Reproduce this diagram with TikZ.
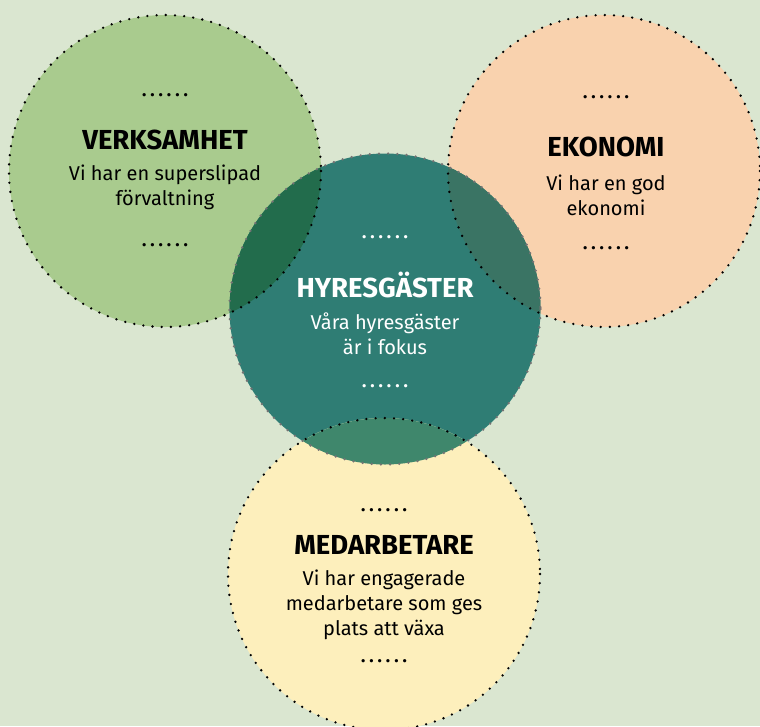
\documentclass[tikz,border=0pt]{standalone}
\usepackage{fontspec}
\setmainfont{Fira Sans}
\usepackage{tikz}

\definecolor{bgcol}{HTML}{DAE6D0}
\definecolor{verkcol}{HTML}{A9CB8E}
\definecolor{ekocol}{HTML}{F9D2AE}
\definecolor{hyrcol}{HTML}{2F7D74}
\definecolor{medcol}{HTML}{FDEFBC}
\definecolor{verkhyr}{HTML}{226C4C}
\definecolor{ekohyr}{HTML}{3A7464}
\definecolor{medhyr}{HTML}{3F876C}

\newcommand{\dotrow}{.\hspace{4pt}.\hspace{4pt}.\hspace{4pt}.\hspace{4pt}.\hspace{4pt}.}

\tikzset{
  rim/.style={line width=2.6pt, line cap=round, dash pattern=on 0pt off 9.2pt},
  head/.style={font=\fontsize{27.5}{32}\selectfont\bfseries, inner sep=0pt},
  body/.style={font=\fontsize{20}{25}\selectfont, align=center, inner sep=0pt},
  dots/.style={font=\fontsize{18}{20}\selectfont\bfseries, inner sep=0pt}
}

\begin{document}
\begin{tikzpicture}[x=1pt, y=-1pt]
            % background
            \fill[bgcol] (0,0) rectangle (760,726);
            \useasboundingbox (0,0) rectangle (760,726);

            % circles
            \fill[verkcol] (165,171) circle (156);
            \fill[ekocol]  (604,171) circle (156);
            \fill[hyrcol]  (385,309) circle (155.5);
            \fill[medcol]  (384,574) circle (156);

            % overlaps
            \begin{scope}
              \clip (385,309) circle (155.5);
              \fill[verkhyr] (165,171) circle (156);
              \fill[ekohyr]  (604,171) circle (156);
              \fill[medhyr]  (384,574) circle (156);
            \end{scope}

            % dotted rims
            \draw[rim, black!55] (385,309) circle (155.5);
            \draw[rim] (165,171) circle (156);
            \draw[rim] (604,171) circle (156);
            \draw[rim] (384,574) circle (156);

            % VERKSAMHET
            \node[dots] (verktop) at (165,95) {\dotrow};
            \node[head] (verkhead) at (165,140) {VERKSAMHET};
            \node[body] (verkbody) at (165,187) {Vi har en superslipad\\förvaltning};
            \node[dots] (verkbot) at (165,245) {\dotrow};

            % EKONOMI
            \node[dots] (ekotop) at (606,97) {\dotrow};
            \node[head] (ekohead) at (606,147) {EKONOMI};
            \node[body] (ekobody) at (606,195) {Vi har en god\\ekonomi};
            \node[dots] (ekobot) at (606,248) {\dotrow};

            % HYRESGÄSTER
            \node[dots, white] (hyrtop) at (385,237) {\dotrow};
            \node[head, white] (hyrhead) at (385,285) {HYRESGÄSTER};
            \node[body, white] (hyrbody) at (385,334) {Våra hyresgäster\\är i fokus};
            \node[dots, white] (hyrbot) at (385,386) {\dotrow};

            % MEDARBETARE
            \node[dots] (medtop) at (384,510) {\dotrow};
            \node[head] (medhead) at (384,545) {MEDARBETARE};
            \node[body] (medbody) at (384,605) {Vi har engagerade\\medarbetare som ges\\plats att växa};
            \node[dots] (medbot) at (384,661) {\dotrow};
\end{tikzpicture}
\end{document}
